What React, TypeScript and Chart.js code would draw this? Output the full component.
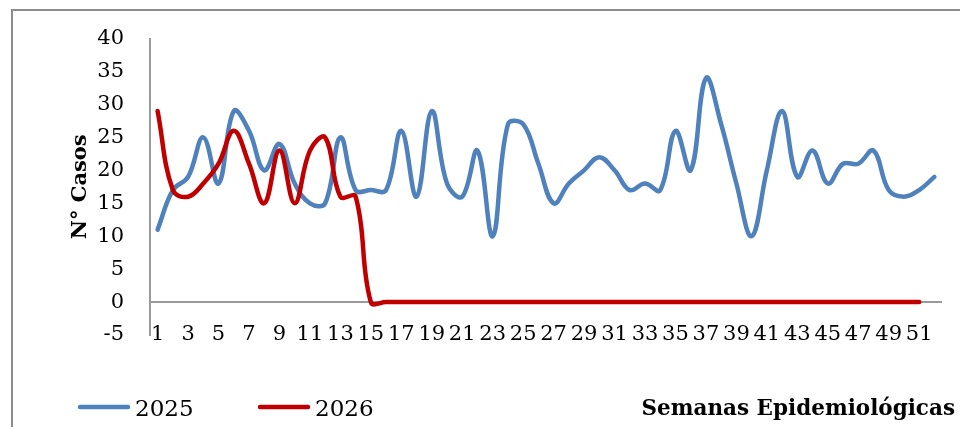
import React, { useEffect, useRef } from "react";
import { Chart, registerables } from "chart.js";

Chart.register(...registerables);

const weeks: string[] = [
  "1","2","3","4","5","6","7","8","9","10","11","12","13","14","15","16","17","18","19","20",
  "21","22","23","24","25","26","27","28","29","30","31","32","33","34","35","36","37","38","39","40",
  "41","42","43","44","45","46","47","48","49","50","51","52",
];

const cases2025: number[] = [
  11, 17, 19, 25, 18, 29, 26, 20, 24, 18, 15, 15, 25, 17, 17, 17, 26, 16, 29, 18,
  16, 23, 10, 27, 27, 21, 15, 18, 20, 22, 20, 17, 18, 17, 26, 20, 34, 27, 18, 10,
  20, 29, 19, 23, 18, 21, 21, 23, 17, 16, 17, 19,
];

const cases2026: number[] = [
  29, 17, 16, 18, 21, 26, 21, 15, 23, 15, 23, 25, 16, 16, 0, 0, 0, 0, 0, 0,
  0, 0, 0, 0, 0, 0, 0, 0, 0, 0, 0, 0, 0, 0, 0, 0, 0, 0, 0, 0,
  0, 0, 0, 0, 0, 0, 0, 0, 0, 0, 0,
];

const seriesNames: string[] = ["2025", "2026"];
const seriesColors: string[] = ["#4F81BD", "#C00000"];
const yTitle = "N° Casos";
const xTitle = "Semanas Epidemiológicas";
const yMin = -5;
const yMax = 40;
const yStep = 5;

const SERIF = '"DejaVu Serif", "Liberation Serif", serif';

const overlayPlugin = {
  id: "overlayLegendTitle",
  afterDraw(chart: any) {
    const ctx = chart.ctx as CanvasRenderingContext2D;
    ctx.save();
    const legendX = 80;
    const legendStep = 180;
    const legendY = 407;
    chart.data.datasets.forEach((ds: any, i: number) => {
      const x0 = legendX + i * legendStep;
      ctx.strokeStyle = ds.borderColor;
      ctx.lineWidth = ds.borderWidth;
      ctx.lineCap = "round";
      ctx.beginPath();
      ctx.moveTo(x0, legendY);
      ctx.lineTo(x0 + 48, legendY);
      ctx.stroke();
      ctx.fillStyle = "#000";
      ctx.font = `23px ${SERIF}`;
      ctx.textAlign = "left";
      ctx.textBaseline = "alphabetic";
      ctx.fillText(ds.label, x0 + 55, legendY + 9);
    });
    ctx.font = `bold 21.5px ${SERIF}`;
    ctx.textAlign = "right";
    ctx.textBaseline = "alphabetic";
    ctx.fillStyle = "#000";
    ctx.fillText(xTitle, 955, 415);
    ctx.restore();
  },
};

export default function App() {
  const canvasRef = useRef<HTMLCanvasElement | null>(null);

  useEffect(() => {
    if (!canvasRef.current) return;
    const chart = new Chart(canvasRef.current, {
      type: "line",
      data: {
        labels: weeks,
        datasets: [
          {
            label: seriesNames[0],
            data: cases2025,
            borderColor: seriesColors[0],
            backgroundColor: seriesColors[0],
            borderWidth: 4.5,
            pointRadius: 0,
            tension: 0.4,
            borderCapStyle: "round",
            borderJoinStyle: "round",
            order: 1,
          },
          {
            label: seriesNames[1],
            data: cases2026,
            borderColor: seriesColors[1],
            backgroundColor: seriesColors[1],
            borderWidth: 4.5,
            pointRadius: 0,
            tension: 0.4,
            borderCapStyle: "round",
            borderJoinStyle: "round",
            order: 0,
          },
        ],
      },
      options: {
        responsive: false,
        animation: false,
        layout: { padding: { left: 0, right: 18, top: 33, bottom: 0 } },
        plugins: {
          legend: { display: false },
          tooltip: { enabled: false },
          title: { display: false },
        },
        scales: {
          x: {
            type: "category",
            offset: true,
            grid: { display: false, drawTicks: false },
            border: { display: false },
            ticks: {
              autoSkip: false,
              maxRotation: 0,
              minRotation: 0,
              mirror: true,
              padding: -12.6,
              color: "#000",
              font: { family: SERIF, size: 21 },
              callback: (_v: any, i: number) => (i % 2 === 0 ? weeks[i] : ""),
            },
            afterFit: (s: any) => {
              s.height = 92;
            },
          },
          y: {
            min: yMin,
            max: yMax,
            grid: {
              drawTicks: false,
              lineWidth: 2,
              color: (c: any) => (c.tick && c.tick.value === 0 ? "#9a9a9a" : "rgba(0,0,0,0)"),
            },
            border: { display: true, color: "#9a9a9a", width: 2 },
            ticks: {
              stepSize: yStep,
              padding: 26,
              color: "#000",
              font: { family: SERIF, size: 21 },
            },
            title: {
              display: true,
              text: yTitle,
              color: "#000",
              font: { family: SERIF, size: 21, weight: "bold" },
              padding: { top: 68, bottom: 0 },
            },
            afterFit: (s: any) => {
              s.width = 150;
            },
          },
        },
      },
      plugins: [overlayPlugin],
    });
    return () => chart.destroy();
  }, []);

  return (
    <div
      style={{
        position: "fixed",
        left: 0,
        top: 0,
        width: 960,
        height: 427,
        overflow: "hidden",
        background: "#fff",
      }}
    >
      <div
        style={{
          position: "absolute",
          left: 11,
          top: 9,
          width: 1100,
          height: 600,
          border: "2px solid #8c8c8c",
        }}
      />
      <canvas
        ref={canvasRef}
        width={960}
        height={427}
        style={{ position: "absolute", left: 0, top: 0, display: "block" }}
      />
    </div>
  );
}
